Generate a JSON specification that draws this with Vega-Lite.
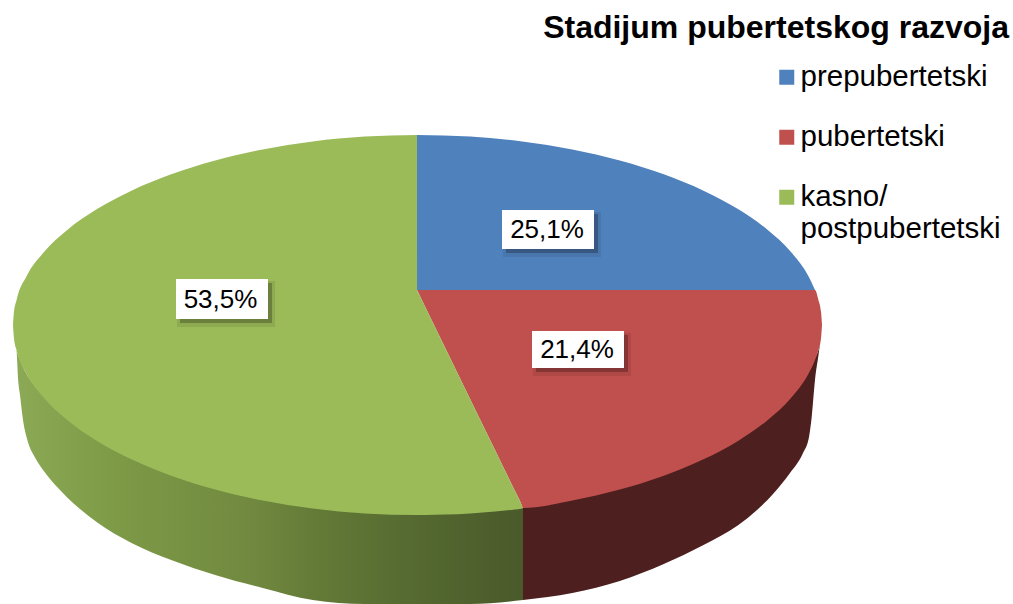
{
"$schema":"https://vega.github.io/schema/vega-lite/v6.json",
"width":1013,"height":604,"padding":0,"autosize":{"type":"none"},
"background":"white",
"config":{"view":{"stroke":null},"font":"Liberation Sans"},
"title":{"text":"Stadijum pubertetskog razvoja","anchor":"end","frame":"group","orient":"top","offset":0,"dy":70,"dx":-4,"fontSize":32,"fontWeight":"bold","font":"Liberation Sans","color":"#000000","baseline":"alphabetic"},
"datasets":{
"sideGreen":[
{"x":14.5,"y":340,"y2":340},{"x":16.5,"y":349.8,"y2":350},{"x":18,"y":355,"y2":378},{"x":20,"y":360,"y2":395},{"x":23,"y":367,"y2":420},{"x":26.8,"y":374.2,"y2":438},{"x":30,"y":379.5,"y2":448},{"x":33,"y":384,"y2":454},{"x":43.8,"y":395,"y2":471},{"x":60,"y":408,"y2":490},{"x":67.2,"y":414,"y2":497.5},{"x":80,"y":422,"y2":509},{"x":96.6,"y":434,"y2":522},{"x":131.5,"y":455,"y2":543},{"x":171.2,"y":472,"y2":560},{"x":215.2,"y":486,"y2":575},{"x":262.7,"y":497,"y2":588},{"x":312.8,"y":505,"y2":600},{"x":364.7,"y":510,"y2":604},{"x":417.5,"y":512,"y2":604},{"x":470.3,"y":510,"y2":604},{"x":523,"y":508,"y2":600}],
"sideRed":[
{"x":523,"y":505,"y2":600},{"x":572.3,"y":497,"y2":593},{"x":619.8,"y":486,"y2":581},{"x":663.8,"y":472,"y2":564},{"x":703.5,"y":456,"y2":545},{"x":738.4,"y":437,"y2":525},{"x":757,"y":425,"y2":510},{"x":773,"y":412,"y2":494},{"x":790,"y":396,"y2":473},{"x":803,"y":380,"y2":453},{"x":809,"y":371,"y2":437},{"x":811.7,"y":366,"y2":417},{"x":815,"y":358,"y2":380},{"x":818.5,"y":349.9,"y2":355},{"x":820,"y":343.8,"y2":343.8}],
"top":[
{"slice":"prepubertetski","x":417,"y":135,"y2":290},{"slice":"prepubertetski","x":470.3,"y":136.6,"y2":290},{"slice":"prepubertetski","x":522.2,"y":141.5,"y2":290},{"slice":"prepubertetski","x":572.3,"y":149.5,"y2":290},{"slice":"prepubertetski","x":619.8,"y":160.5,"y2":290},{"slice":"prepubertetski","x":663.8,"y":174.3,"y2":290},{"slice":"prepubertetski","x":703.5,"y":190.7,"y2":290},{"slice":"prepubertetski","x":738.4,"y":209.3,"y2":290},{"slice":"prepubertetski","x":767.8,"y":230,"y2":290},{"slice":"prepubertetski","x":791.2,"y":252.3,"y2":290},{"slice":"prepubertetski","x":808.2,"y":275.8,"y2":290},{"slice":"prepubertetski","x":815,"y":290,"y2":290},
{"slice":"pubertetski","x":417,"y":290,"y2":290},{"slice":"pubertetski","x":419,"y":290,"y2":294.1},{"slice":"pubertetski","x":425,"y":290,"y2":306.4},{"slice":"pubertetski","x":445,"y":290,"y2":347.5},{"slice":"pubertetski","x":470.3,"y":290,"y2":399.4},{"slice":"pubertetski","x":495,"y":290,"y2":450.1},{"slice":"pubertetski","x":515,"y":290,"y2":491.1},{"slice":"pubertetski","x":521,"y":290,"y2":503.4},{"slice":"pubertetski","x":523,"y":290,"y2":508},{"slice":"pubertetski","x":572.3,"y":290,"y2":500.5},{"slice":"pubertetski","x":619.8,"y":290,"y2":489.5},{"slice":"pubertetski","x":663.8,"y":290,"y2":475.7},{"slice":"pubertetski","x":703.5,"y":290,"y2":459.3},{"slice":"pubertetski","x":738.4,"y":290,"y2":440.7},{"slice":"pubertetski","x":767.8,"y":290,"y2":420},{"slice":"pubertetski","x":791.2,"y":290,"y2":397.7},{"slice":"pubertetski","x":808.2,"y":290,"y2":374.2},{"slice":"pubertetski","x":815,"y":290,"y2":360},{"slice":"pubertetski","x":818.5,"y":300.2,"y2":349.8},{"slice":"pubertetski","x":821.1,"y":312.6,"y2":337.4},{"slice":"pubertetski","x":822,"y":325,"y2":325},
{"slice":"kasno/postpubertetski","x":13,"y":325,"y2":325},{"slice":"kasno/postpubertetski","x":13.9,"y":312.6,"y2":337.4},{"slice":"kasno/postpubertetski","x":16.5,"y":300.2,"y2":349.8},{"slice":"kasno/postpubertetski","x":26.8,"y":275.8,"y2":374.2},{"slice":"kasno/postpubertetski","x":43.8,"y":252.3,"y2":397.7},{"slice":"kasno/postpubertetski","x":67.2,"y":230,"y2":420},{"slice":"kasno/postpubertetski","x":96.6,"y":209.3,"y2":440.7},{"slice":"kasno/postpubertetski","x":131.5,"y":190.7,"y2":459.3},{"slice":"kasno/postpubertetski","x":171.2,"y":174.3,"y2":475.7},{"slice":"kasno/postpubertetski","x":215.2,"y":160.5,"y2":489.5},{"slice":"kasno/postpubertetski","x":262.7,"y":149.5,"y2":500.5},{"slice":"kasno/postpubertetski","x":312.8,"y":141.5,"y2":508.5},{"slice":"kasno/postpubertetski","x":364.7,"y":136.6,"y2":513.4},{"slice":"kasno/postpubertetski","x":417,"y":135,"y2":515},{"slice":"kasno/postpubertetski","x":417.1,"y":290,"y2":515},{"slice":"kasno/postpubertetski","x":419,"y":294.1,"y2":515},{"slice":"kasno/postpubertetski","x":425,"y":306.4,"y2":515},{"slice":"kasno/postpubertetski","x":445,"y":347.5,"y2":514.6},{"slice":"kasno/postpubertetski","x":470.3,"y":399.4,"y2":513.4},{"slice":"kasno/postpubertetski","x":495,"y":450.1,"y2":511.5},{"slice":"kasno/postpubertetski","x":515,"y":491.1,"y2":509.4},{"slice":"kasno/postpubertetski","x":521,"y":503.4,"y2":508.7},{"slice":"kasno/postpubertetski","x":523,"y":508,"y2":508}],
"labels":[
{"label":"25,1%","cx":547,"cy":229.5,"x0":502,"x1":594,"y0":210,"y1":249},
{"label":"21,4%","cx":577,"cy":349.5,"x0":532,"x1":624,"y0":331,"y1":368},
{"label":"53,5%","cx":220.5,"cy":299.5,"x0":176,"x1":268,"y0":279,"y1":319}]
},
"encoding":{
"x":{"field":"x","type":"quantitative","scale":{"domain":[0,1013]},"axis":null},
"y":{"field":"y","type":"quantitative","scale":{"domain":[604,0]},"axis":null}
},
"layer":[
{"data":{"name":"sideGreen"},
 "mark":{"type":"area","interpolate":"monotone","fill":{"x1":0,"y1":0,"x2":1,"y2":0,"gradient":"linear","stops":[{"offset":0,"color":"#8CA955"},{"offset":0.2,"color":"#7D9A47"},{"offset":0.45,"color":"#728A40"},{"offset":0.6,"color":"#637A37"},{"offset":0.8,"color":"#546830"},{"offset":1,"color":"#4A5A2A"}]}},
 "encoding":{"y2":{"field":"y2"}}},
{"data":{"name":"sideRed"},
 "mark":{"type":"area","interpolate":"monotone","fill":"#4E1F1F"},
 "encoding":{"y2":{"field":"y2"}}},
{"data":{"name":"top"},
 "mark":{"type":"area","interpolate":"monotone"},
 "encoding":{"y2":{"field":"y2"},
  "color":{"field":"slice","type":"nominal",
   "scale":{"domain":["prepubertetski","pubertetski","kasno/postpubertetski"],"range":["#4F81BD","#C0504D","#9BBB59"]},
   "legend":{"title":null,"orient":"none","legendX":772,"legendY":62.5,"symbolType":"square","symbolSize":225,"symbolStrokeWidth":0,"labelFontSize":29.5,"labelFont":"Liberation Sans","labelColor":"#000000","labelLimit":400,"labelOffset":-1,"rowPadding":29,"labelLineHeight":33,
    "labelExpr":"datum.label == 'kasno/postpubertetski' ? ['kasno/', 'postpubertetski'] : datum.label"}}}},
{"data":{"name":"labels"},"mark":{"type":"rect","fill":"#000000","opacity":0.08,"xOffset":4,"yOffset":5,"x2Offset":4,"y2Offset":5,"stroke":"#000000","strokeWidth":6},
 "encoding":{"x":{"field":"x0","type":"quantitative"},"x2":{"field":"x1"},"y":{"field":"y0","type":"quantitative"},"y2":{"field":"y1"}}},
{"data":{"name":"labels"},"mark":{"type":"rect","fill":"#000000","opacity":0.25,"xOffset":4,"yOffset":4,"x2Offset":4,"y2Offset":4},
 "encoding":{"x":{"field":"x0","type":"quantitative"},"x2":{"field":"x1"},"y":{"field":"y0","type":"quantitative"},"y2":{"field":"y1"}}},
{"data":{"name":"labels"},"mark":{"type":"rect","fill":"#FFFFFF"},
 "encoding":{"x":{"field":"x0","type":"quantitative"},"x2":{"field":"x1"},"y":{"field":"y0","type":"quantitative"},"y2":{"field":"y1"}}},
{"data":{"name":"labels"},"mark":{"type":"text","fontSize":26,"font":"Liberation Sans","color":"#000000","align":"center","baseline":"middle"},
 "encoding":{"x":{"field":"cx","type":"quantitative"},"y":{"field":"cy","type":"quantitative"},"text":{"field":"label"}}}
]
}
